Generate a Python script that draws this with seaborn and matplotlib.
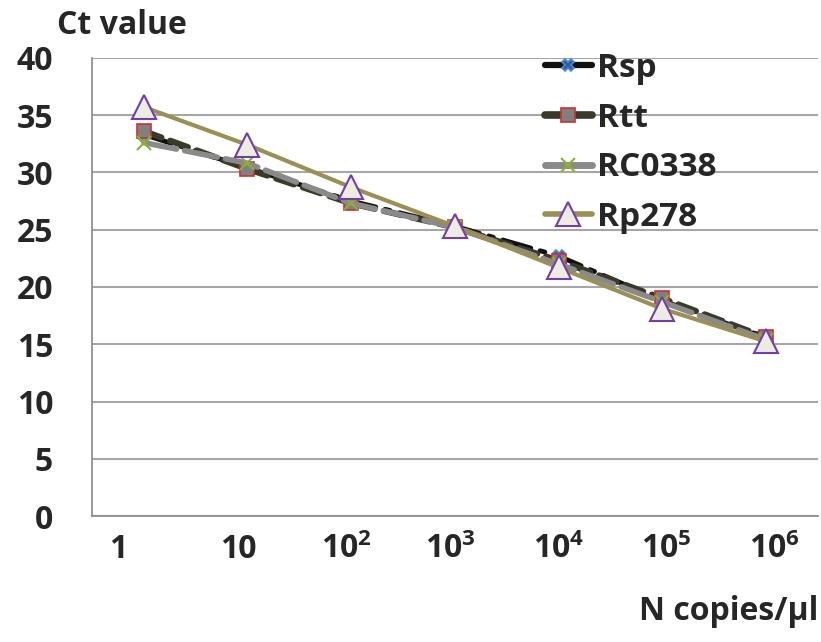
import matplotlib

matplotlib.use("Agg")
import matplotlib.pyplot as plt
import pandas as pd
import seaborn as sns
from matplotlib.lines import Line2D

# data (categorical x axis, Excel style)
concentrations = ["1", "10", "$10^2$", "$10^3$", "$10^4$", "$10^5$", "$10^6$"]
rsp = [33.3, 30.4, 27.5, 25.3, 22.7, 18.8, 15.6]
rtt = [33.6, 30.3, 27.3, 25.2, 22.3, 19.0, 15.6]
rc0338 = [32.6, 30.8, 27.3, 25.2, 22.0, 18.7, 15.4]
rp278 = [35.7, 32.4, 28.7, 25.3, 21.7, 18.1, 15.25]

sns.set_style("white")
plt.rcParams["font.family"] = ["Open Sans", "DejaVu Sans"]
plt.rcParams["font.weight"] = "bold"
plt.rcParams["mathtext.fontset"] = "custom"
plt.rcParams["mathtext.rm"] = "Open Sans:bold"
plt.rcParams["mathtext.it"] = "Open Sans:bold"
plt.rcParams["mathtext.bf"] = "Open Sans:bold"

fig = plt.figure(figsize=(8.21, 6.42), dpi=100)
ax = fig.add_axes([0.112, 0.196, 0.884, 0.714])

pos = list(range(len(concentrations)))
df = pd.DataFrame({"pos": pos, "Rsp": rsp, "Rtt": rtt,
                   "RC0338": rc0338, "Rp278": rp278})

styles = {
    "Rsp": dict(color="#111111", lw=3.5, ls=(0, (6, 2, 1, 2)), marker="X",
                ms=8, mfc="#2f5f9e", mec="#4a8ad0"),
    "Rtt": dict(color="#3b3a28", lw=4.5, ls=(0, (3, 1.5)), marker="s",
                ms=10, mfc="#808080", mec="#d03030"),
    "RC0338": dict(color="#8a8a8a", lw=4, ls=(0, (6, 1.5)), marker="x",
                   ms=10, mfc="#8a8a8a", mec="#8ab030", mew=1.5),
    "Rp278": dict(color="#9a8f55", lw=3, ls="-", marker="^",
                  ms=17, mfc="#eeece2", mec="#7040a8", mew=1.5),
}

for name in ["Rsp", "Rtt", "RC0338", "Rp278"]:
    st = styles[name]
    sns.lineplot(data=df, x="pos", y=name, ax=ax, color=st["color"],
                 linewidth=st["lw"], linestyle=st["ls"], marker=st["marker"],
                 markersize=st["ms"], markerfacecolor=st["mfc"],
                 markeredgecolor=st["mec"], markeredgewidth=st.get("mew", 1.2),
                 solid_capstyle="round", dash_capstyle="round", legend=False)

ax.set_xlim(-0.5, 6.5)
ax.set_ylim(0, 40)
ax.set_yticks(range(0, 41, 5))
ax.yaxis.grid(True, color="#a6a6a6", lw=1.5)
ax.set_xticks([p - 0.5 for p in pos] + [6.5], minor=True)
ax.set_xticks([-0.25, 0.91, 1.95, 2.96, 4.0, 5.04, 6.08])
ax.set_xticklabels(concentrations, fontsize=23, fontweight="bold")
ax.tick_params(axis="x", which="major", length=5, width=1.3, color="#333333",
               direction="out", pad=7)
ax.tick_params(axis="x", which="minor", length=2, color="#888888", direction="out")
ax.tick_params(axis="y", length=0, labelsize=23, pad=28)
for lab in ax.get_yticklabels():
    lab.set_fontweight("bold")
ax.set_xlabel("")
ax.set_ylabel("")

for side in ["top", "right"]:
    ax.spines[side].set_visible(False)
for side in ["left", "bottom"]:
    ax.spines[side].set_color("#888888")
    ax.spines[side].set_linewidth(1.2)

handles = []
for name in ["Rsp", "Rtt", "RC0338", "Rp278"]:
    st = styles[name]
    handles.append(Line2D([], [], color=st["color"], lw=st["lw"] + 1, ls="-",
                          marker=st["marker"], ms=st["ms"], mfc=st["mfc"],
                          mec=st["mec"], mew=st.get("mew", 1.2),
                          solid_capstyle="round"))
fig.legend(handles, ["Rsp", "Rtt", "RC0338", "Rp278"], loc="upper left",
           bbox_to_anchor=(545 / 821, 1 - 52 / 642), frameon=False,
           handlelength=1.4, handletextpad=0.15, labelspacing=0.5,
           borderpad=0, borderaxespad=0,
           prop={"size": 24, "weight": "bold"})

fig.text(57 / 821, 1 - 25 / 642, "Ct value", fontsize=23, fontweight="bold",
         va="center")
fig.text(818 / 821, 1 - 612 / 642, "N copies/µl", fontsize=23,
         fontweight="bold", ha="right", va="center")

fig.savefig("out.png", dpi=100)
